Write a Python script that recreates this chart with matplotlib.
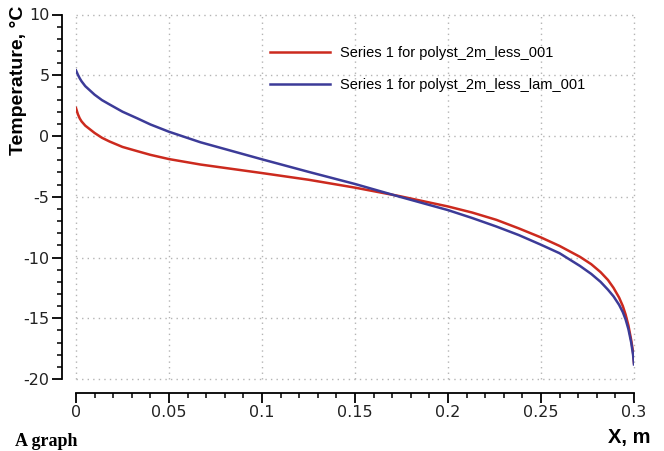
import matplotlib
matplotlib.use('Agg')
import matplotlib.pyplot as plt
from matplotlib.ticker import MultipleLocator

plt.rcParams['axes.unicode_minus'] = False

# Data
x_pos = [0, 0.001, 0.002, 0.003, 0.005, 0.0075, 0.01, 0.014, 0.018, 0.025,
         0.033, 0.04, 0.05, 0.067, 0.1, 0.125, 0.15, 0.174, 0.2, 0.213,
         0.226, 0.238, 0.25, 0.26, 0.271, 0.277, 0.282, 0.286, 0.289, 0.292,
         0.294, 0.2955, 0.297, 0.2985, 0.2995, 0.3]
temp_less = [2.3, 1.8, 1.45, 1.2, 0.85, 0.55, 0.25, -0.15, -0.45, -0.9,
             -1.25, -1.55, -1.9, -2.35, -3.05, -3.6, -4.25, -4.95, -5.8, -6.3,
             -6.9, -7.6, -8.35, -9.05, -9.95, -10.55, -11.2, -11.85, -12.5, -13.3,
             -14.0, -14.7, -15.6, -16.8, -17.8, -18.7]
temp_less_lam = [5.4, 5.05, 4.75, 4.5, 4.1, 3.75, 3.4, 2.95, 2.6, 2.0,
                 1.45, 0.95, 0.35, -0.52, -1.92, -2.95, -3.95, -5.0, -6.1, -6.75,
                 -7.45, -8.15, -8.95, -9.65, -10.7, -11.35, -12.0, -12.65, -13.2, -13.9,
                 -14.5, -15.1, -15.9, -17.0, -18.0, -18.8]
labels = ['Series 1 for polyst_2m_less_001', 'Series 1 for polyst_2m_less_lam_001']
colors = ['#cc2a1e', '#3c3b98']

fig = plt.figure(figsize=(6.64, 4.51), dpi=100)
ax = fig.add_axes([76 / 664, 1 - 379 / 451, 558 / 664, 364.5 / 451])

ax.plot(x_pos, temp_less, color=colors[0], lw=1.8, label=labels[0])
ax.plot(x_pos, temp_less_lam, color=colors[1], lw=1.8, label=labels[1])

ax.set_xlim(0, 0.3)
ax.set_ylim(-20, 10)
ax.xaxis.set_minor_locator(MultipleLocator(0.01))
ax.yaxis.set_major_locator(MultipleLocator(5))
ax.yaxis.set_minor_locator(MultipleLocator(1))
ax.set_xticks([0, 0.05, 0.1, 0.15, 0.2, 0.25, 0.3])
ax.set_xticklabels(['0', '0.05', '0.1', '0.15', '0.2', '0.25', '0.3'])

for s in ['top', 'right']:
    ax.spines[s].set_visible(False)
ax.spines['left'].set_position(('outward', 10))
ax.spines['bottom'].set_position(('outward', 10))
for s in ['left', 'bottom']:
    ax.spines[s].set_linewidth(1.3)

ax.tick_params(which='major', direction='out', length=7, width=1.3, pad=2,
               labelsize=11.5, labelcolor='#222222')
ax.tick_params(which='minor', direction='out', length=3.5, width=1.1)

ax.grid(True, which='major', color='#b4b4b4', linestyle=(0, (1, 3)), linewidth=1)
for gl in ax.get_xgridlines() + ax.get_ygridlines():
    gl.set_clip_on(False)

ax.legend(loc='upper left', bbox_to_anchor=(270 / 664, 1 - 46 / 451),
          bbox_transform=fig.transFigure, frameon=False, borderpad=0,
          borderaxespad=0, handlelength=4.1, handletextpad=0.7,
          labelspacing=1.25, prop={'family': 'Liberation Sans', 'size': 10.5})

fig.text(19 / 664, 1 - 6 / 451, 'Temperature, °C', rotation=90, ha='center', va='top',
         fontsize=14, fontweight='bold', family='Liberation Sans')
fig.text(651 / 664, 1 - 438 / 451, 'X, m', ha='right', va='center',
         fontsize=14.5, fontweight='bold', family='Liberation Sans')
fig.text(15 / 664, 1 - 433 / 451, 'A graph', ha='left', va='top',
         fontsize=13, fontweight='bold', family='Liberation Serif')

fig.savefig('out.png', dpi=100)
